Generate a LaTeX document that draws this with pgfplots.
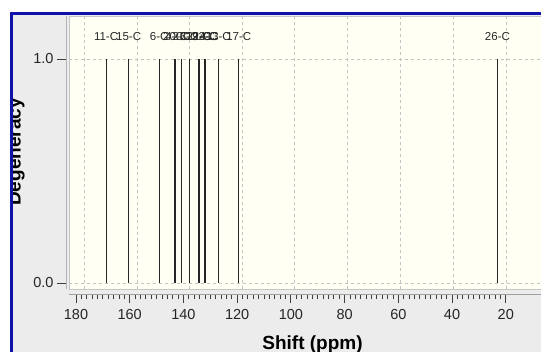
\documentclass[border=0pt]{standalone}
\usepackage{pgfplots}
\usepackage{pgfplotstable}
\pgfplotsset{compat=1.18}
\usepackage{fontspec}
\setmainfont{Liberation Sans}

\definecolor{frameblue}{RGB}{18,18,170}
\definecolor{panel}{RGB}{236,236,236}
\definecolor{plotbg}{RGB}{255,255,243}
\definecolor{gridc}{RGB}{196,196,196}
\definecolor{stick}{RGB}{38,38,38}

% 13C shifts (ppm) and relative degeneracy of each carbon
\pgfplotstableread{
x      y   label
168.8  1   11-C
160.4  1   15-C
149.0  1   6-C
143.3  1   4-C
142.9  1   20-C
140.6  1   2-C
137.9  1   8-C
134.4  1   19-C
134.1  1   21-C
132.1  1   22-C
131.8  1   24-C
127.0  1   13-C
119.4  1   17-C
23.1   1   26-C
}\peaks

\begin{document}
\begin{tikzpicture}[x=1pt,y=1pt]
\path[use as bounding box] (0,0) rectangle (541,352);
\clip (0,0) rectangle (541,352);
\fill[white] (0,0) rectangle (541,352);
\fill[panel] (11,0) rectangle (541,340);

\begin{axis}[
  at={(69pt,63pt)}, anchor=south west,
  scale only axis, width=482pt, height=273pt,
  x dir=reverse,
  xmin=3.16, xmax=182.6, ymin=-0.0268, ymax=1.192,
  axis background/.style={fill=plotbg, draw=gray!45},
  axis x line*=bottom, axis y line*=left,
  axis x line shift=5.5pt, axis y line shift=3pt,
  x axis line style={draw=gray!75, line width=1.3pt, -},
  y axis line style={draw=gray!60, line width=0.8pt, -},
  xtick={20,40,...,180}, minor x tick num=9,
  ytick={0,1}, yticklabels={0.0,1.0},
  tick align=outside,
  major tick length=9pt, minor tick length=5pt,
  every tick/.style={draw=black!75, line width=0.8pt},
  /pgf/number format/assume math mode=true,
  ticklabel style={font=\fontsize{14.5}{16}\selectfont, text=black!85},
  xticklabel style={yshift=-2.5pt},
]
% dashed grid of the plot panel
\pgfplotsinvokeforeach{177.0,157.1,137.6,118.2,98.5,78.8,59.1,39.6,19.9}{
  \draw[gridc, dash pattern=on 3pt off 3pt, line width=0.8pt]
    (axis cs:#1,-0.0268) -- (axis cs:#1,1.192);
}
\pgfplotsinvokeforeach{0,1}{
  \draw[gridc, dash pattern=on 3pt off 3pt, line width=0.8pt]
    (axis cs:182.6,#1) -- (axis cs:3.16,#1);
}
% one stick per carbon, labelled above
\addplot[ycomb, stick, line width=0.9pt, no markers,
  nodes near coords, point meta=explicit symbolic,
  every node near coord/.append style={anchor=center, yshift=22pt,
    inner sep=0pt, text=black!85, font=\fontsize{11.5}{13}\selectfont}]
  table[x=x, y=y, meta=label] {\peaks};
\end{axis}

\begin{scope}
  \clip (13,0) rectangle (541,337);
  \node[rotate=90, anchor=base, font=\bfseries\fontsize{19}{22}\selectfont]
    at (20.5,200) {Degeneracy};
\end{scope}
\node[anchor=base, font=\bfseries\fontsize{19}{22}\selectfont]
  at (312.5,2) {Shift (ppm)};

\draw[frameblue, line width=3pt] (11.5,0) -- (11.5,338.5) -- (541,338.5);
\end{tikzpicture}
\end{document}
